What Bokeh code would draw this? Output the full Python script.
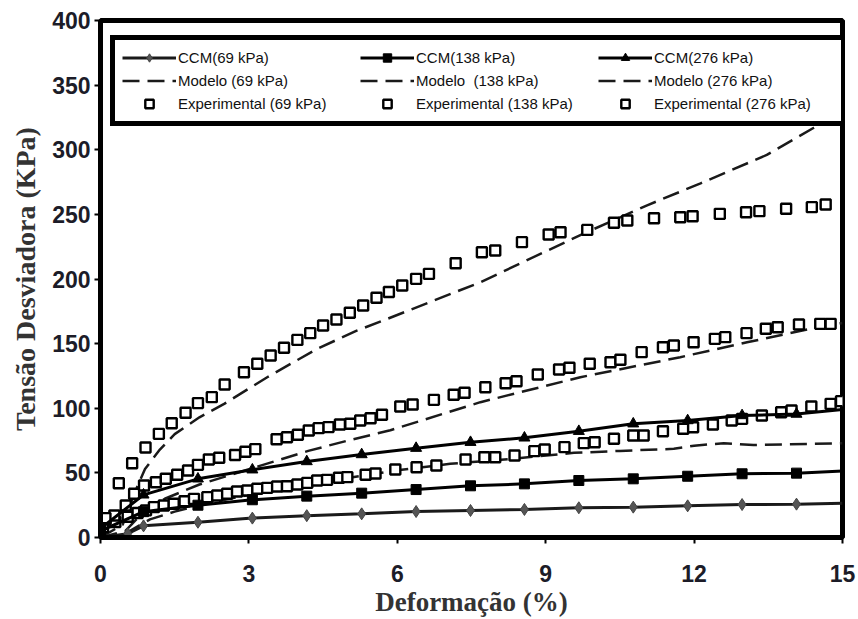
from bokeh.plotting import figure
from bokeh.models import Range1d, FixedTicker, Legend, LegendItem
from bokeh.embed import file_html
from bokeh.resources import INLINE

# ---------------- data ----------------
x_ticks = [0, 3, 6, 9, 12, 15]
y_ticks = [0, 50, 100, 150, 200, 250, 300, 350, 400]

ccm69_x = [0, 0.55, 0.87, 1.97, 3.07, 4.17, 5.28, 6.38, 7.48, 8.57, 9.67, 10.77, 11.87, 12.97, 14.07, 15]
ccm69_y = [0, 3, 9, 11.8, 15, 16.9, 18.3, 20.1, 20.9, 21.7, 23, 23.5, 24.5, 25.5, 25.8, 26.5]

ccm_x = [0, 0.87, 1.97, 3.07, 4.17, 5.28, 6.38, 7.48, 8.57, 9.67, 10.77, 11.87, 12.97, 14.07, 15]
ccm138_y = [5, 20, 25, 29.2, 32, 34.3, 37.1, 40, 41.5, 44.1, 45.4, 47.4, 49.3, 49.8, 51.5]
ccm276_y = [7, 33, 45.4, 52.4, 58.8, 64.2, 69.1, 73.7, 77.1, 82.2, 88, 90.5, 94.4, 95.5, 99]

mod69_x = [0, 0.5, 1.0, 1.5, 2.0, 3.0, 4.0, 5.0, 6.0, 7.07, 8.35, 9.57, 10.5, 11.59, 12.0, 12.6, 13.2, 15]
mod69_y = [0, 3, 14, 20, 25, 33, 40, 46, 52, 57, 61, 65.5, 67, 68.6, 71, 73, 71.5, 73]

mod138_x = [0, 0.5, 0.8, 1.3, 2.0, 3.1, 4.2, 5.0, 5.86, 7.68, 9.7, 11.72, 13.07, 14.35, 15]
mod138_y = [0, 5, 17, 30, 41, 54, 67, 75, 83, 104.7, 124, 139.5, 151, 161.5, 166]

mod276_x = [0, 0.45, 0.6, 0.75, 0.9, 1.2, 1.5, 2.0, 2.5, 3.37, 4.38, 5.18, 5.79, 7.68, 9.7, 11.05, 12.13, 13.47, 14.42, 15]
mod276_y = [0, 10, 25, 40, 53, 68, 80, 93, 103.4, 124, 146, 160, 169, 197.5, 234, 257, 274, 296, 317, 328]

exp69_x = [0.05, 0.3, 0.55, 0.75, 0.92, 1.08, 1.28, 1.48, 1.7, 1.89, 2.16, 2.36, 2.56, 2.76, 2.97,
           3.17, 3.37, 3.57, 3.77, 3.98, 4.18, 4.38, 4.58, 4.82, 4.99, 5.36, 5.56, 5.96, 6.39, 6.79,
           7.38, 7.76, 7.98, 8.37, 8.77, 8.98, 9.38, 9.77, 9.99, 10.38, 10.77, 10.98, 11.37, 11.78,
           11.98, 12.38, 12.76, 12.97, 13.37, 13.76, 13.97, 14.37, 14.76, 14.97]
exp69_y = [8, 12, 16, 19, 21, 23.5, 24.8, 26.1, 28.1, 29.9, 31.2, 32.5, 33.8, 35.6, 36.4,
           37.7, 38.4, 39.5, 39.7, 41, 42.3, 44.1, 44.6, 46.2, 46.7, 48.5, 49.5, 52.6, 54.4, 55.7,
           60.3, 62.1, 62.1, 63.4, 66.8, 68.1, 69.9, 73, 73.7, 76.4, 78.9, 78.9, 82.2, 84.1,
           85.3, 87.4, 90.5, 91.8, 94.4, 96.9, 98.3, 101.4, 103.4, 105.5]

exp138_x = [0.1, 0.28, 0.51, 0.68, 0.88, 1.12, 1.32, 1.55, 1.77, 1.97, 2.19, 2.4, 2.72, 2.93, 3.13,
            3.56, 3.77, 3.99, 4.21, 4.41, 4.61, 4.84, 5.05, 5.25, 5.46, 5.69, 6.06, 6.31, 6.74,
            7.14, 7.36, 7.78, 8.19, 8.41, 8.84, 9.27, 9.48, 9.89, 10.31, 10.51, 10.94, 11.37,
            11.59, 11.99, 12.42, 12.63, 13.06, 13.45, 13.69, 14.12, 14.55, 14.76]
exp138_y = [14.4, 17, 24.8, 33.8, 40.2, 42.8, 45.4, 48.5, 51.8, 56.2, 60.3, 61.7, 63.8, 66.4, 68.4,
            76, 77.6, 79.5, 82.8, 84.6, 85.4, 87.4, 88, 90.5, 92.3, 95, 101.4, 102.9, 106.5,
            110.4, 112, 116.3, 119.4, 120.9, 126.1, 130, 131.3, 134.4, 135.6, 137.5, 143.4, 147.2,
            148.5, 151.1, 153.7, 155, 158.1, 161.5, 162.7, 164.8, 165.3, 165.3]

exp276_x = [0.1, 0.37, 0.64, 0.91, 1.18, 1.44, 1.72, 1.97, 2.25, 2.51, 2.9, 3.17, 3.44, 3.71, 3.98,
            4.24, 4.5, 4.77, 5.04, 5.31, 5.58, 5.83, 6.1, 6.38, 6.64, 7.18, 7.71, 7.98, 8.52, 9.06,
            9.3, 9.84, 10.38, 10.65, 11.19, 11.72, 11.97, 12.52, 13.05, 13.32, 13.86, 14.38, 14.66]
exp276_y = [15, 42, 57.5, 69.6, 80.2, 88.4, 96.5, 104, 108.6, 118.4, 127.9, 134.4, 140.8, 146.8, 152.9,
            158.1, 164, 168.7, 173.9, 179.5, 185.5, 190, 195, 200.1, 204, 212.2, 220.7, 222, 228.5, 234.4,
            236.2, 238, 243.5, 245.3, 247, 247.8, 248.6, 250.4, 251.7, 252.5, 254.3, 255.6, 257.6]

labels = ["CCM(69 kPa)", "CCM(138 kPa)", "CCM(276 kPa)",
          "Modelo (69 kPa)", "Modelo  (138 kPa)", "Modelo (276 kPa)",
          "Experimental (69 kPa)", "Experimental (138 kPa)", "Experimental (276 kPa)"]

# ---------------- figure ----------------
p = figure(width=858, height=619, output_backend="svg", toolbar_location=None,
           x_range=Range1d(0, 15), y_range=Range1d(0, 400),
           min_border_left=100, min_border_right=16, min_border_top=20, min_border_bottom=82)
p.background_fill_color = "white"
p.border_fill_color = "white"
p.xgrid.visible = False
p.ygrid.visible = False
p.outline_line_color = "black"
p.outline_line_width = 5
p.outline_line_alpha = 1

for ax in (p.xaxis[0], p.yaxis[0]):
    ax.axis_line_width = 5
    ax.axis_line_color = "black"
    ax.major_tick_line_width = 2
    ax.major_tick_line_color = "black"
    ax.major_tick_out = 6
    ax.major_tick_in = 0
    ax.minor_tick_out = 0
    ax.minor_tick_in = 0
    ax.major_label_text_font = "Liberation Sans"
    ax.major_label_text_font_style = "bold"
    ax.major_label_text_font_size = "23px"
    ax.major_label_text_color = "#1c1c28"
    ax.axis_label_text_font = "Liberation Serif"
    ax.axis_label_text_font_style = "bold"
    ax.axis_label_text_color = "#333333"

p.xaxis.ticker = FixedTicker(ticks=x_ticks)
p.yaxis.ticker = FixedTicker(ticks=y_ticks)
p.xaxis.major_label_standoff = 21
p.yaxis.major_label_standoff = 4
p.xaxis.axis_label = "Deformação (%)"
p.yaxis.axis_label = "Tensão Desviadora (KPa)"
p.xaxis.axis_label_text_font_size = "27px"
p.yaxis.axis_label_text_font_size = "28px"
p.xaxis.axis_label_standoff = 2
p.yaxis.axis_label_standoff = 8

dash = "17 8"

# Modelo (dashed)
m69 = p.line(mod69_x, mod69_y, line_color="#1a1a1a", line_width=2.5, line_dash=dash)
m138 = p.line(mod138_x, mod138_y, line_color="#1a1a1a", line_width=2.5, line_dash=dash)
m276 = p.line(mod276_x, mod276_y, line_color="#1a1a1a", line_width=2.5, line_dash=dash)

# Experimental (open squares)
e69 = p.scatter(exp69_x, exp69_y, marker="square", size=10, line_color="black", line_width=2.4, fill_color="white")
e138 = p.scatter(exp138_x, exp138_y, marker="square", size=10, line_color="black", line_width=2.4, fill_color="white")
e276 = p.scatter(exp276_x, exp276_y, marker="square", size=10, line_color="black", line_width=2.4, fill_color="white")

# CCM (solid lines with markers)
c69l = p.line(ccm69_x, ccm69_y, line_color="#1a1a1a", line_width=3)
c69m = p.scatter(ccm69_x[:-1], ccm69_y[:-1], marker="diamond", size=12, line_color="#444444", fill_color="#555555")
c138l = p.line(ccm_x, ccm138_y, line_color="black", line_width=3)
c138m = p.scatter(ccm_x[:-1], ccm138_y[:-1], marker="square", size=10, line_color="black", fill_color="black")
c276l = p.line(ccm_x, ccm276_y, line_color="black", line_width=3)
c276m = p.scatter(ccm_x[:-1], ccm276_y[:-1], marker="triangle", size=11, line_color="black", fill_color="black")

items = [
    LegendItem(label=labels[0], renderers=[c69l, c69m]),
    LegendItem(label=labels[3], renderers=[m69]),
    LegendItem(label=labels[6], renderers=[e69]),
    LegendItem(label=labels[1], renderers=[c138l, c138m]),
    LegendItem(label=labels[4], renderers=[m138]),
    LegendItem(label=labels[7], renderers=[e138]),
    LegendItem(label=labels[2], renderers=[c276l, c276m]),
    LegendItem(label=labels[5], renderers=[m276]),
    LegendItem(label=labels[8], renderers=[e276]),
]
legend = Legend(items=items, location=(10, 411), ncols=3, orientation="vertical",
                border_line_color="black", border_line_width=5, border_line_alpha=1,
                background_fill_color="white", background_fill_alpha=1,
                label_text_font="Liberation Sans", label_text_font_size="15px",
                label_text_color="#111111",
                glyph_width=54, glyph_height=21, label_standoff=2, label_width=180,
                label_height=21, padding=7, spacing=2, margin=0)
p.add_layout(legend)

open("out.html", "w").write(file_html(p, INLINE))
